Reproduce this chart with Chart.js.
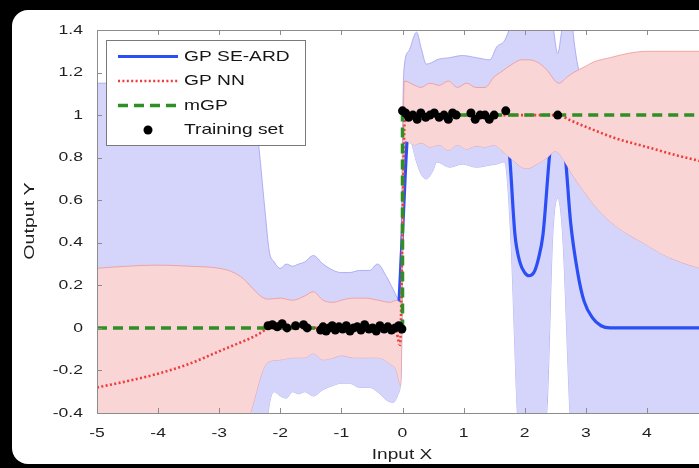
<!DOCTYPE html>
<html>
<head>
<meta charset="utf-8">
<script src="https://cdn.jsdelivr.net/npm/chart.js@4.4.1/dist/chart.umd.min.js"></script>
<style>
  html, body { margin: 0; padding: 0; background: #000; width: 699px; height: 468px; overflow: hidden; }
  .card { position: absolute; left: 12px; top: 10px; width: 760px; height: 454px; background: #fff; border-radius: 16px; }
  #gpChart { position: absolute; left: 0; top: 0; width: 760px; height: 468px; }
</style>
</head>
<body>
<div class="card"></div>
<canvas id="gpChart" width="760" height="468"></canvas>
<script>
// GP SE-ARD: mean and +/- 2 sigma band
const seX      = [-5, -2.5, -2.45, -2.35, -2.25, -2.18, -2.1, -2.0, -1.9, -1.8, -1.7, -1.6, -1.46, -1.3, -1.13, -1.0, -0.87, -0.7, -0.54, -0.41, -0.26, -0.15, -0.07, -0.02, 0.02, 0.1, 0.23, 0.31, 0.39, 0.5, 0.56, 0.77, 0.98, 1.21, 1.43, 1.54, 1.67, 1.77, 1.88, 2.0, 2.36, 2.46, 2.54, 2.62, 2.74, 2.82, 2.88, 3.0, 5];
const seUpper  = [1.15, 1.15, 1.1, 0.85, 0.55, 0.36, 0.31, 0.28, 0.3, 0.29, 0.3, 0.31, 0.34, 0.3, 0.27, 0.26, 0.26, 0.27, 0.27, 0.3, 0.24, 0.18, 0.14, 0.5, 1.2, 1.3, 1.39, 1.31, 1.24, 1.25, 1.26, 1.27, 1.28, 1.27, 1.26, 1.32, 1.35, 1.42, 1.5, 1.5, 1.5, 1.42, 1.29, 1.42, 1.5, 1.32, 1.22, 1.15, 1.15];
const seLower  = [-1.15, -1.15, -1.1, -0.85, -0.55, -0.36, -0.3, -0.32, -0.33, -0.3, -0.31, -0.3, -0.32, -0.29, -0.27, -0.26, -0.26, -0.28, -0.28, -0.3, -0.34, -0.35, -0.31, -0.2, 0.75, 0.9, 0.78, 0.72, 0.7, 0.74, 0.78, 0.755, 0.77, 0.755, 0.765, 0.77, 0.78, 0.44, -0.4, -0.8, -0.4, 0.44, 0.61, 0.44, -0.4, -0.8, -1.0, -1.15, -1.15];
const seMeanX  = [-5, -0.1, 0, 0.08, 0.15, 1.6, 1.68, 1.75, 1.84, 1.92, 2.0, 2.07, 2.15, 2.22, 2.3, 2.41, 2.47, 2.54, 2.61, 2.67, 2.75, 2.87, 2.97, 3.11, 3.25, 3.4, 5];
const seMean   = [0, 0, 0.45, 0.9, 1.0, 1.0, 0.96, 0.82, 0.44, 0.31, 0.26, 0.245, 0.26, 0.32, 0.44, 0.82, 0.95, 1.0, 0.94, 0.79, 0.5, 0.255, 0.127, 0.047, 0.01, 0, 0];

// GP NN: mean and +/- 2 sigma band
const nnX      = [-5, -4.5, -4, -3.5, -3, -2.8, -2.6, -2.5, -2.4, -2.3, -2.2, -2.0, -1.8, -1.6, -1.46, -1.3, -1.13, -1.0, -0.8, -0.6, -0.4, -0.2, -0.1, -0.03, 0.03, 0.2, 0.3, 0.45, 0.6, 0.75, 0.9, 1.05, 1.2, 1.35, 1.5, 1.6, 1.8, 1.95, 2.05, 2.2, 2.37, 2.5, 2.56, 2.7, 2.8, 3.0, 3.13, 3.4, 3.69, 4.0, 4.23, 4.5, 4.87, 5];
const nnUpper  = [0.28, 0.29, 0.295, 0.29, 0.28, 0.265, 0.23, 0.2, 0.17, 0.145, 0.135, 0.14, 0.13, 0.15, 0.17, 0.13, 0.12, 0.13, 0.14, 0.14, 0.13, 0.12, 0.13, 0.12, 1.16, 1.14, 1.13, 1.15, 1.14, 1.16, 1.13, 1.15, 1.13, 1.13, 1.18, 1.2, 1.24, 1.26, 1.26, 1.25, 1.21, 1.16, 1.15, 1.18, 1.2, 1.23, 1.25, 1.27, 1.29, 1.3, 1.3, 1.3, 1.3, 1.3];
const nnLower  = [-0.84, -0.8, -0.74, -0.66, -0.57, -0.52, -0.46, -0.41, -0.31, -0.21, -0.16, -0.15, -0.14, -0.14, -0.12, -0.15, -0.14, -0.13, -0.14, -0.14, -0.14, -0.17, -0.2, -0.27, 0.88, 0.86, 0.87, 0.85, 0.86, 0.835, 0.86, 0.84, 0.855, 0.85, 0.86, 0.84, 0.79, 0.755, 0.75, 0.77, 0.8, 0.83, 0.82, 0.76, 0.71, 0.63, 0.58, 0.5, 0.44, 0.39, 0.35, 0.315, 0.28, 0.27];
const nnMeanX  = [-5, -4.5, -4, -3.5, -3, -2.75, -2.5, -2.3, -2.2, -0.12, -0.04, 0.0, 0.04, 2.55, 2.75, 3.0, 3.5, 4.0, 4.5, 5];
const nnMean   = [-0.28, -0.25, -0.215, -0.17, -0.11, -0.08, -0.05, -0.02, 0, 0, -0.08, 0.45, 1.0, 1.0, 0.975, 0.945, 0.89, 0.85, 0.81, 0.775];

// mGP prediction (step)
const mgpX     = [-5, 0, 0, 5];
const mgpY     = [0, 0, 1, 1];

// training set
const trainX = [-2.2, -2.13, -2.05, -1.97, -1.89, -1.75, -1.62, -1.56, -1.34, -1.3, -1.25, -1.2, -1.15, -1.1, -1.04, -0.98, -0.92, -0.86, -0.8, -0.74, -0.68, -0.62, -0.55, -0.49, -0.43, -0.37, -0.3, -0.24, -0.18, -0.12, -0.06, -0.01,
                0.0, 0.05, 0.1, 0.17, 0.24, 0.3, 0.38, 0.45, 0.52, 0.6, 0.68, 0.75, 0.82, 0.88, 1.12, 1.19, 1.27, 1.35, 1.42, 1.5, 1.69, 2.54];
const trainY = [0.01, 0.015, 0.005, 0.02, 0.0, 0.01, 0.015, 0.0, -0.01, 0.005, -0.015, 0.0, 0.01, -0.01, 0.005, -0.005, 0.01, -0.015, 0.0, 0.005, -0.01, 0.015, -0.005, 0.0, -0.015, 0.01, -0.005, 0.005, -0.01, 0.0, 0.01, -0.005,
                1.02, 1.01, 0.99, 1.0, 0.98, 1.01, 0.99, 1.0, 1.01, 0.99, 1.0, 0.98, 1.01, 1.0, 1.01, 0.98, 1.0, 1.0, 0.98, 1.0, 1.02, 1.0];

const xTicks = [-5, -4, -3, -2, -1, 0, 1, 2, 3, 4, 5];
const yTicks = [-0.4, -0.2, 0, 0.2, 0.4, 0.6, 0.8, 1, 1.2, 1.4];

const FONT = '"Liberation Sans", Arial, Helvetica, sans-serif';

const pts = (xs, ys) => xs.map((x, i) => ({ x: x, y: ys[i] }));

// text is drawn a little wide, like the original figure export
function wideText(ctx, text, x, y, size, sx, align, rot) {
  ctx.save();
  ctx.translate(x, y);
  if (rot) ctx.rotate(rot);
  ctx.scale(sx, 1);
  ctx.font = size + 'px ' + FONT;
  ctx.textAlign = align;
  ctx.textBaseline = 'middle';
  ctx.fillText(text, 0, 0);
  ctx.restore();
}

const axesBox = {
  id: 'axesBox',
  afterDatasetsDraw(chart) {
    const { ctx, chartArea: a, scales } = chart;
    const sx = scales.x, sy = scales.y;
    ctx.save();
    ctx.strokeStyle = '#8c8c8c';
    ctx.lineWidth = 1;
    ctx.strokeRect(a.left + 0.5, a.top + 0.5, a.right - a.left, a.bottom - a.top);
    ctx.beginPath();
    xTicks.forEach(v => {
      const px = Math.round(sx.getPixelForValue(v)) + 0.5;
      ctx.moveTo(px, a.top); ctx.lineTo(px, a.top + 5);
      ctx.moveTo(px, a.bottom); ctx.lineTo(px, a.bottom - 5);
    });
    yTicks.forEach(v => {
      const py = Math.round(sy.getPixelForValue(v)) + 0.5;
      ctx.moveTo(a.left, py); ctx.lineTo(a.left + 5, py);
    });
    ctx.stroke();

    ctx.fillStyle = '#1e1e1e';
    xTicks.forEach(v => wideText(ctx, String(v), sx.getPixelForValue(v), 433, 13.5, 1.3, 'center'));
    yTicks.forEach(v => wideText(ctx, String(v), 83, sy.getPixelForValue(v), 13.5, 1.3, 'right'));

    wideText(ctx, 'Input X', 402, 455, 15, 1.27, 'center');
    wideText(ctx, 'Output Y', 30, 221, 14.5, 1.35, 'center', -Math.PI / 2);
    ctx.restore();
  }
};

const legendBox = {
  id: 'legendBox',
  afterDraw(chart) {
    const ctx = chart.ctx;
    const ds = chart.data.datasets;
    const rows = [
      { d: ds[4], y: 56.5 },
      { d: ds[5], y: 81 },
      { d: ds[6], y: 105.5 },
      { d: ds[7], y: 130, dot: true }
    ];
    ctx.save();
    ctx.fillStyle = '#fff';
    ctx.fillRect(106.5, 40.5, 199, 105);
    ctx.strokeStyle = '#7a7a7a';
    ctx.lineWidth = 1;
    ctx.strokeRect(106.5, 40.5, 199, 105);
    rows.forEach(r => {
      if (r.dot) {
        ctx.fillStyle = r.d.pointBackgroundColor;
        ctx.beginPath();
        ctx.arc(148, r.y, r.d.pointRadius, 0, Math.PI * 2);
        ctx.fill();
      } else {
        ctx.strokeStyle = r.d.borderColor;
        ctx.lineWidth = r.d.borderWidth;
        ctx.setLineDash(r.d.borderDash || []);
        ctx.beginPath();
        ctx.moveTo(118, r.y);
        ctx.lineTo(178, r.y);
        ctx.stroke();
        ctx.setLineDash([]);
      }
      ctx.fillStyle = '#161616';
      wideText(ctx, r.d.label, 184, r.y, 15, 1.28, 'left');
    });
    ctx.restore();
  }
};

new Chart(document.getElementById('gpChart'), {
  type: 'line',
  data: {
    datasets: [
      { label: 'SE band', data: pts(seX, seUpper), fill: '+1', backgroundColor: '#d5d5fb',
        borderColor: 'rgba(150,150,240,0.7)', borderWidth: 1, pointRadius: 0, cubicInterpolationMode: 'monotone', order: 8 },
      { label: 'SE band low', data: pts(seX, seLower), fill: false,
        borderColor: 'rgba(150,150,240,0.7)', borderWidth: 1, pointRadius: 0, cubicInterpolationMode: 'monotone', order: 8 },
      { label: 'NN band', data: pts(nnX, nnUpper), fill: '+1', backgroundColor: '#fad5d5',
        borderColor: 'rgba(238,150,150,0.8)', borderWidth: 1, pointRadius: 0, cubicInterpolationMode: 'monotone', order: 6 },
      { label: 'NN band low', data: pts(nnX, nnLower), fill: false,
        borderColor: 'rgba(238,150,150,0.8)', borderWidth: 1, pointRadius: 0, cubicInterpolationMode: 'monotone', order: 6 },
      { label: 'GP SE-ARD', data: pts(seMeanX, seMean), fill: false, borderColor: '#2b4ff5', borderWidth: 3.2,
        pointRadius: 0, cubicInterpolationMode: 'monotone', order: 7 },
      { label: 'GP NN', data: pts(nnMeanX, nnMean), fill: false, borderColor: '#ef3b3b', borderWidth: 2.6,
        borderDash: [2, 2.4], pointRadius: 0, cubicInterpolationMode: 'monotone', order: 3 },
      { label: 'mGP', data: pts(mgpX, mgpY), fill: false, borderColor: '#2f8f25', borderWidth: 3.5,
        borderDash: [10, 6], pointRadius: 0, tension: 0, order: 2 },
      { label: 'Training set', data: pts(trainX, trainY), showLine: false, pointRadius: 4.5,
        pointBackgroundColor: '#000', pointBorderColor: '#000', pointBorderWidth: 0, order: 1 }
    ]
  },
  options: {
    responsive: false,
    devicePixelRatio: 1,
    animation: false,
    events: [],
    layout: { padding: { left: 97, right: 52, top: 30, bottom: 55 } },
    plugins: { legend: { display: false }, tooltip: { enabled: false } },
    scales: {
      x: { type: 'linear', min: -5, max: 5, display: false },
      y: { type: 'linear', min: -0.4, max: 1.4, display: false }
    }
  },
  plugins: [axesBox, legendBox]
});
</script>
</body>
</html>
